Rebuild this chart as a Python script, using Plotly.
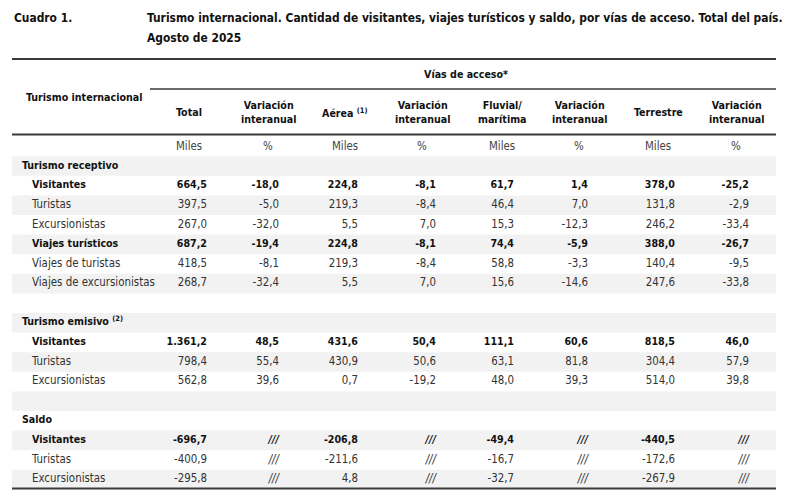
import plotly.graph_objects as go

# row labels of the table (empty strings are spacer rows)
row_labels = ["Turismo receptivo", "Visitantes", "Turistas", "Excursionistas",
              "Viajes turísticos", "Viajes de turistas", "Viajes de excursionistas", "",
              "Turismo emisivo <sup>(2)</sup>", "Visitantes", "Turistas", "Excursionistas", "",
              "Saldo", "Visitantes", "Turistas", "Excursionistas"]
group_rows = [0, 8, 13]
bold_rows = [1, 4, 9, 14]
data_rows = [1, 2, 3, 4, 5, 6, 9, 10, 11, 14, 15, 16]

col_headers = ["Total", "Variación<br>interanual", "Aérea <sup>(1)</sup>", "Variación<br>interanual",
               "Fluvial/<br>marítima", "Variación<br>interanual", "Terrestre", "Variación<br>interanual"]
col_units = ["Miles", "%", "Miles", "%", "Miles", "%", "Miles", "%"]

# values in thousands / percent, None = "///"
total = [664.5, 397.5, 267.0, 687.2, 418.5, 268.7, 1361.2, 798.4, 562.8, -696.7, -400.9, -295.8]
var_total = [-18.0, -5.0, -32.0, -19.4, -8.1, -32.4, 48.5, 55.4, 39.6, None, None, None]
aerea = [224.8, 219.3, 5.5, 224.8, 219.3, 5.5, 431.6, 430.9, 0.7, -206.8, -211.6, 4.8]
var_aerea = [-8.1, -8.4, 7.0, -8.1, -8.4, 7.0, 50.4, 50.6, -19.2, None, None, None]
fluvial = [61.7, 46.4, 15.3, 74.4, 58.8, 15.6, 111.1, 63.1, 48.0, -49.4, -16.7, -32.7]
var_fluvial = [1.4, 7.0, -12.3, -5.9, -3.3, -14.6, 60.6, 81.8, 39.3, None, None, None]
terrestre = [378.0, 131.8, 246.2, 388.0, 140.4, 247.6, 818.5, 304.4, 514.0, -440.5, -172.6, -267.9]
var_terrestre = [-25.2, -2.9, -33.4, -26.7, -9.5, -33.8, 46.0, 57.9, 39.8, None, None, None]

columns = [total, var_total, aerea, var_aerea, fluvial, var_fluvial, terrestre, var_terrestre]

# layout (pixels)
W, H = 790, 496
col_center = [189, 268, 345, 422, 502, 579, 658, 736]
col_right = [207, 279, 358, 436, 514, 588, 675, 749]
row0_px, row_step = 166, 19.6
left, right = 12, 776

FONT = "DejaVu Sans Condensed, sans-serif"
SZ = 11.4      # regular text
SZB = 10.6     # bold text
SZT = 11.9     # title
DARK = "#111111"
GREY = "#333333"


def fmt(v):
    if v is None:
        return "<i>///</i>"
    s = f"{v:,.1f}"
    return s.replace(",", "X").replace(".", ",").replace("X", ".")


def py(px):
    return 1 - px / H


fig = go.Figure()

# row labels
for i, lab in enumerate(row_labels):
    if not lab:
        continue
    bold = i in group_rows or i in bold_rows
    fig.add_trace(go.Scatter(
        x=[22 if i in group_rows else 32], y=[i], mode="text",
        text=["<b>%s</b>" % lab if bold else lab], textposition="middle right",
        textfont=dict(family=FONT, size=SZB if bold else SZ, color=DARK if bold else GREY),
        hoverinfo="skip", showlegend=False))

# values
for c, vals in enumerate(columns):
    txt, colors, sizes = [], [], []
    for r, v in zip(data_rows, vals):
        s = fmt(v)
        if r in bold_rows:
            txt.append("<b>%s</b>" % s)
            colors.append(DARK)
            sizes.append(SZB)
        else:
            txt.append(s)
            colors.append(GREY)
            sizes.append(SZ)
    fig.add_trace(go.Scatter(
        x=[col_right[c]] * len(vals), y=data_rows, mode="text",
        text=txt, textposition="middle left",
        textfont=dict(family=FONT, size=sizes, color=colors),
        hoverinfo="skip", showlegend=False))

shapes = []
# shaded bands on even rows
for i in range(0, len(row_labels), 2):
    shapes.append(dict(type="rect", xref="x", yref="y", x0=left, x1=right, y0=i - 0.5, y1=i + 0.5,
                       fillcolor="#f2f2f2", line=dict(width=0), layer="below"))
# rules
for y_px, x0, w in [(59, left, 2.2), (89, 150, 1.3), (134.5, left, 2.2), (488.5, left, 2.2)]:
    shapes.append(dict(type="line", xref="x", yref="paper", x0=x0, x1=right, y0=py(y_px), y1=py(y_px),
                       line=dict(color="#3a3a3a", width=w)))

annotations = [
    dict(text="<b>Cuadro 1.</b>", x=12, y=py(18), xanchor="left", font=dict(size=SZT)),
    dict(text="<b>Turismo internacional. Cantidad de visitantes, viajes turísticos y saldo, por vías de acceso. Total del país.</b>",
         x=145, y=py(18), xanchor="left", font=dict(size=SZT)),
    dict(text="<b>Agosto de 2025</b>", x=145, y=py(38), xanchor="left", font=dict(size=SZT)),
    dict(text="<b>Turismo internacional</b>", x=24, y=py(97), xanchor="left"),
    dict(text="<b>Vías de acceso*</b>", x=466, y=py(74), xanchor="center"),
]
for c, h in enumerate(col_headers):
    annotations.append(dict(text="<b>%s</b>" % h, x=col_center[c], y=py(112), xanchor="center"))
    annotations.append(dict(text=col_units[c], x=col_center[c], y=py(146), xanchor="center",
                            font=dict(color="#444444", size=SZ)))
for a in annotations:
    a.setdefault("xref", "x")
    a.setdefault("yref", "paper")
    a.setdefault("yanchor", "middle")
    a.setdefault("showarrow", False)
    f = a.setdefault("font", {})
    f.setdefault("family", FONT)
    f.setdefault("size", SZB)
    f.setdefault("color", DARK)

y_top = (0 - row0_px) / row_step
y_bot = (H - row0_px) / row_step
fig.update_layout(
    width=W, height=H, margin=dict(l=0, r=0, t=0, b=0),
    paper_bgcolor="white", plot_bgcolor="white",
    xaxis=dict(range=[0, W], visible=False, fixedrange=True),
    yaxis=dict(range=[y_bot, y_top], visible=False, fixedrange=True),
    shapes=shapes, annotations=annotations,
)

fig.write_html("out.html", config={"displayModeBar": False},
               post_script="document.body.style.margin='0';")
